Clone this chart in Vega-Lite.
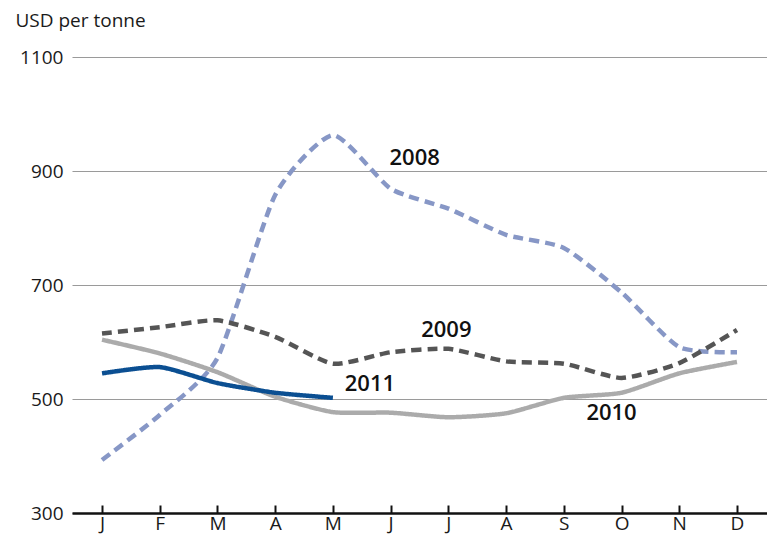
{
  "$schema": "https://vega.github.io/schema/vega-lite/v6.json",
  "width": 695,
  "height": 456,
  "autosize": "none",
  "padding": {"left": 72, "top": 57, "right": 0, "bottom": 29},
  "background": "white",
  "config": {"view": {"stroke": null}, "font": "Open Sans"},
  "datasets": {
    "prices": [
      {"month": "J1", "year": "2008", "price": 393},
      {"month": "F", "year": "2008", "price": 472},
      {"month": "M1", "year": "2008", "price": 572},
      {"month": "A1", "year": "2008", "price": 858},
      {"month": "M2", "year": "2008", "price": 963},
      {"month": "J2", "year": "2008", "price": 869},
      {"month": "J3", "year": "2008", "price": 834},
      {"month": "A2", "year": "2008", "price": 788},
      {"month": "S", "year": "2008", "price": 765},
      {"month": "O", "year": "2008", "price": 687},
      {"month": "N", "year": "2008", "price": 591},
      {"month": "D", "year": "2008", "price": 582},
      {"month": "J1", "year": "2009", "price": 615},
      {"month": "F", "year": "2009", "price": 626},
      {"month": "M1", "year": "2009", "price": 638},
      {"month": "A1", "year": "2009", "price": 609},
      {"month": "M2", "year": "2009", "price": 562},
      {"month": "J2", "year": "2009", "price": 582},
      {"month": "J3", "year": "2009", "price": 588},
      {"month": "A2", "year": "2009", "price": 566},
      {"month": "S", "year": "2009", "price": 562},
      {"month": "O", "year": "2009", "price": 537},
      {"month": "N", "year": "2009", "price": 563},
      {"month": "D", "year": "2009", "price": 621},
      {"month": "J1", "year": "2010", "price": 604},
      {"month": "F", "year": "2010", "price": 580},
      {"month": "M1", "year": "2010", "price": 547},
      {"month": "A1", "year": "2010", "price": 504},
      {"month": "M2", "year": "2010", "price": 477},
      {"month": "J2", "year": "2010", "price": 476},
      {"month": "J3", "year": "2010", "price": 468},
      {"month": "A2", "year": "2010", "price": 475},
      {"month": "S", "year": "2010", "price": 502},
      {"month": "O", "year": "2010", "price": 511},
      {"month": "N", "year": "2010", "price": 545},
      {"month": "D", "year": "2010", "price": 565},
      {"month": "J1", "year": "2011", "price": 545},
      {"month": "F", "year": "2011", "price": 556},
      {"month": "M1", "year": "2011", "price": 528},
      {"month": "A1", "year": "2011", "price": 511},
      {"month": "M2", "year": "2011", "price": 502}
    ],
    "labels": [
      {"month": "J2", "price": 923, "label": "2008", "off": 24},
      {"month": "J3", "price": 621, "label": "2009", "off": -2},
      {"month": "O", "price": 475, "label": "2010", "off": -10},
      {"month": "M2", "price": 526, "label": "2011", "off": 37}
    ]
  },
  "encoding": {
    "x": {
      "field": "month",
      "type": "ordinal",
      "sort": ["J1","F","M1","A1","M2","J2","J3","A2","S","O","N","D"],
      "scale": {"type": "point", "padding": 0.52, "domain": ["J1","F","M1","A1","M2","J2","J3","A2","S","O","N","D"]},
      "axis": {
        "title": null,
        "labelAngle": 0,
        "labelExpr": "substring(datum.value, 0, 1)",
        "labelFontSize": 19,
        "labelColor": "#1a1a1a",
        "labelPadding": 9,
        "domainColor": "#111111",
        "domainWidth": 2.5,
        "tickColor": "#111111",
        "tickWidth": 2,
        "tickSize": -8,
        "grid": false
      }
    },
    "y": {
      "field": "price",
      "type": "quantitative",
      "scale": {"domain": [300, 1100], "nice": false, "zero": false},
      "axis": {
        "values": [300, 500, 700, 900, 1100],
        "format": "d",
        "title": "USD per tonne",
        "titleAngle": 0,
        "titleAlign": "left",
        "titleBaseline": "middle",
        "titleX": -57,
        "titleY": -37,
        "titleFontSize": 19,
        "titleFontWeight": "normal",
        "titleColor": "#1a1a1a",
        "labelFontSize": 19,
        "labelColor": "#1a1a1a",
        "labelPadding": 9,
        "domain": false,
        "ticks": false,
        "grid": true,
        "gridColor": "#9a9a9a",
        "gridWidth": 1.2
      }
    }
  },
  "layer": [
    {
      "data": {"name": "prices"},
      "mark": {"type": "line", "interpolate": "cardinal", "tension": 0.4, "strokeWidth": 4.5, "strokeCap": "butt"},
      "encoding": {
        "color": {
          "field": "year",
          "type": "nominal",
          "scale": {"domain": ["2010", "2011", "2009", "2008"], "range": ["#ababab", "#0b4f92", "#555555", "#8797c6"]},
          "legend": null
        },
        "strokeDash": {
          "field": "year",
          "type": "nominal",
          "scale": {"domain": ["2010", "2011", "2009", "2008"], "range": [[1, 0], [1, 0], [10, 6], [10, 6]]},
          "legend": null
        },
        "order": {"field": "year", "type": "nominal"}
      }
    },
    {
      "data": {"name": "labels"},
      "mark": {"type": "text", "fontSize": 22, "fontWeight": 600, "color": "#111111", "align": "center", "baseline": "middle"},
      "encoding": {
        "text": {"field": "label"},
        "xOffset": {"field": "off", "type": "quantitative", "scale": null}
      }
    }
  ]
}
